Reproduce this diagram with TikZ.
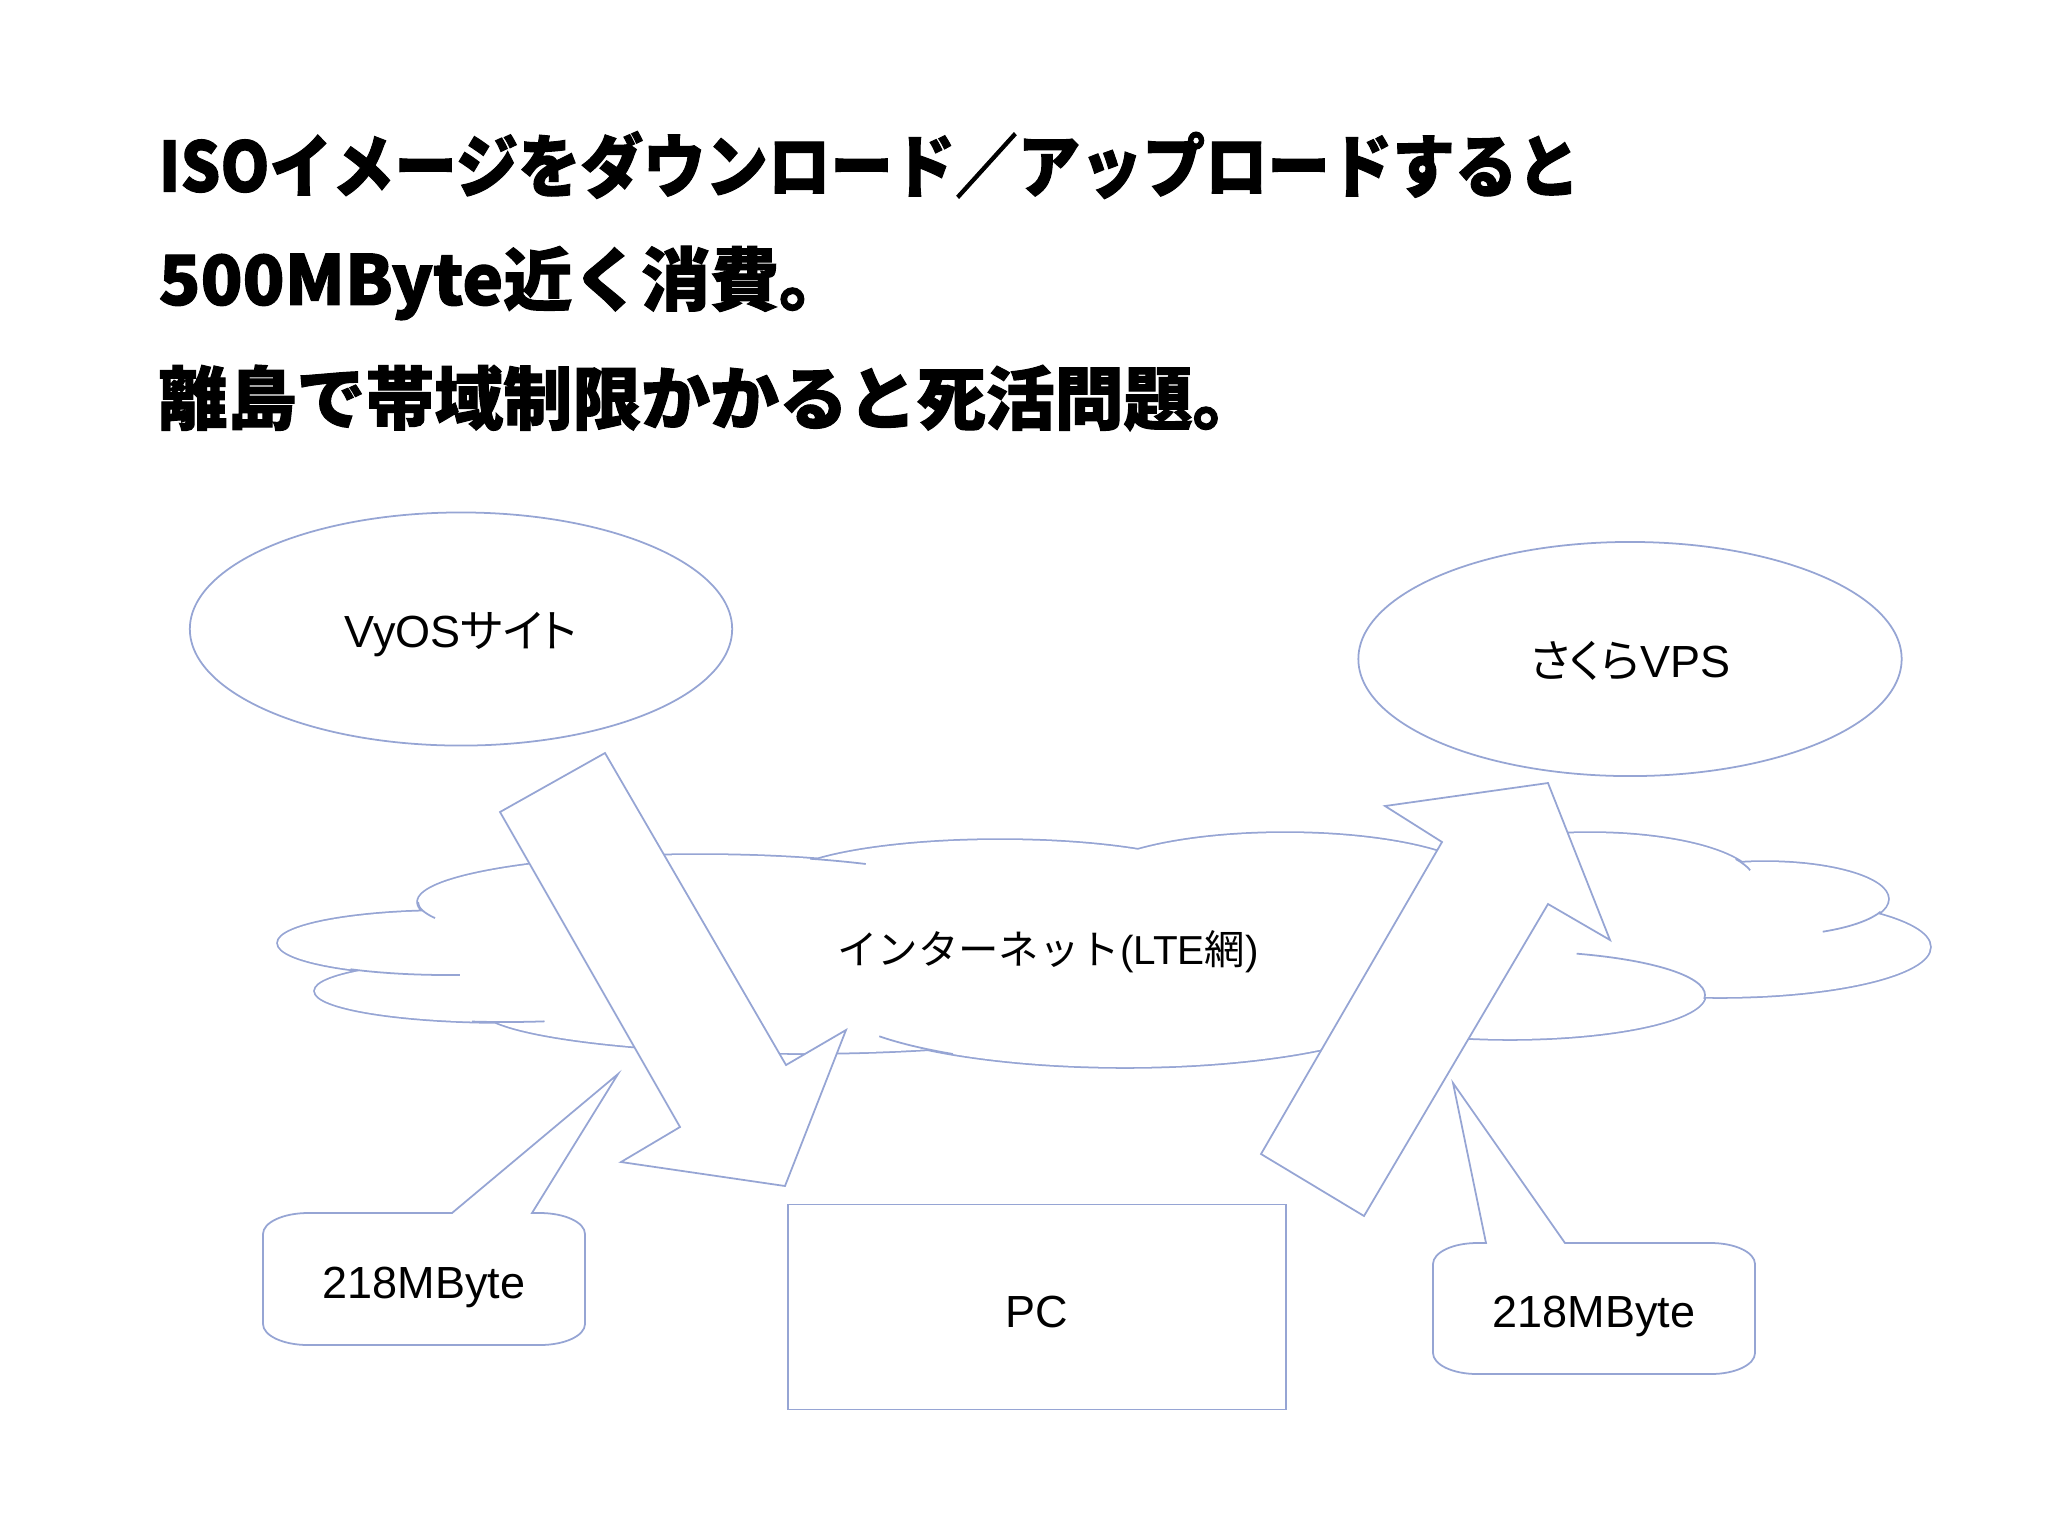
\documentclass[tikz,border=0pt]{standalone}
\usepackage{fontspec}
\usetikzlibrary{shapes.geometric}

\setmainfont{Liberation Sans}
\newfontfamily\jpfont{Noto Sans CJK JP}
\newfontfamily\jpnarrow{Noto Sans CJK JP}[RawFeature=+palt]
\newfontfamily\titlefont{Noto Sans CJK JP}[BoldFeatures={FakeBold=1.5}]
\definecolor{shapeline}{RGB}{150,165,212}

% lobes of the internet cloud
\newcommand\netlobes{(1100,950) ellipse [x radius=700, y radius=80]
  (448,943) ellipse [x radius=170, y radius=32]
  (505,991) ellipse [x radius=190, y radius=31]
  (800,1008) ellipse [x radius=320, y radius=45]
  (1125,995) ellipse [x radius=300, y radius=72]
  (1510,995) ellipse [x radius=195, y radius=44]
  (1720,947) ellipse [x radius=210, y radius=50]
  (1765,899) ellipse [x radius=123, y radius=37]
  (1590,882) ellipse [x radius=165, y radius=49]
  (1285,885) ellipse [x radius=200, y radius=52]
  (1000,885) ellipse [x radius=222, y radius=45]
  (700,902) ellipse [x radius=282, y radius=47]}

\begin{document}
\begin{tikzpicture}[x=0.01cm,y=-0.01cm,
    shapeedge/.style={draw=shapeline,line width=0.5pt,fill=white},
    boxtext/.style={font=\fontsize{12.8}{15}\selectfont},
    headline/.style={anchor=west,inner sep=0pt,font=\titlefont\bfseries\fontsize{19.6}{23}\selectfont}]

\useasboundingbox (0,0) rectangle (2048,1535);

% title
\node[headline] (line1) at (158,165) {\scalebox{0.906}[1]{ISOイメージをダウンロード／アップロードすると}};
\node[headline] (line2) at (158,283) {500MByte近く消費。};
\node[headline] (line3) at (158,398) {離島で帯域制限かかると死活問題。};

% sites
\node[shapeedge,ellipse,inner sep=0pt,minimum width=5.42cm,minimum height=2.33cm,
  text height=0.36cm,text depth=0pt,boxtext] (vyos) at (461,629) {VyOS{\jpnarrow サイト}};
\node[shapeedge,ellipse,inner sep=0pt,minimum width=5.43cm,minimum height=2.34cm,
  text height=0.36cm,text depth=0pt,boxtext] (vps) at (1630,659) {{\jpnarrow さくら}VPS};

% cloud
\draw[draw=shapeline,line width=1pt] \netlobes;
\fill[white] \netlobes;
\draw[shapeline,line width=0.5pt]
  (448,943) ++(125:170 and 32) arc[start angle=125,end angle=86,x radius=170,y radius=32]
  (505,991) ++(100:190 and 31) arc[start angle=100,end angle=78,x radius=190,y radius=31]
  (700,902) ++(180:282 and 47) arc[start angle=180,end angle=160,x radius=282,y radius=47]
  (700,902) ++(-67:282 and 47) arc[start angle=-67,end angle=-54,x radius=282,y radius=47]
  (1125,995) ++(145:300 and 72) arc[start angle=145,end angle=125,x radius=300,y radius=72]
  (1510,995) ++(-70:195 and 44) arc[start angle=-70,end angle=5,x radius=195,y radius=44]
  (1765,899) ++(20:123 and 37) arc[start angle=20,end angle=62,x radius=123,y radius=37]
  (1590,882) ++(-28:165 and 49) arc[start angle=-28,end angle=-14,x radius=165,y radius=49];
\node[font=\fontsize{11.5}{13}\selectfont] (net) at (1048,952) {{\jpfont インターネット}(LTE{\jpfont 網})};

% download / upload arrows
\draw[shapeedge] (500,812) -- (605,753) -- (786,1065) -- (846,1030) -- (785,1186)
  -- (621,1162) -- (680,1127) -- cycle;
\draw[shapeedge] (1261,1154) -- (1442,842) -- (1385,806) -- (1548,783) -- (1610,940)
  -- (1548,904) -- (1364,1216) -- cycle;

\node[shapeedge,rectangle,minimum width=4.97cm,minimum height=2.05cm,
  text height=0.40cm,text depth=0pt,boxtext] (pc) at (1037,1307) {PC};

% callouts
\draw[shapeedge] (452,1213) -- (618,1074) -- (532,1213) -- (540,1213)
  arc[start angle=-90,end angle=0,x radius=45,y radius=21] -- (585,1324)
  arc[start angle=0,end angle=90,x radius=45,y radius=21] -- (308,1345)
  arc[start angle=90,end angle=180,x radius=45,y radius=21] -- (263,1234)
  arc[start angle=180,end angle=270,x radius=45,y radius=21] -- cycle;
\node[boxtext,anchor=base] (down) at (424,1298) {218MByte};

\draw[shapeedge] (1486,1243) -- (1453,1083) -- (1565,1243) -- (1711,1243)
  arc[start angle=-90,end angle=0,x radius=44,y radius=21] -- (1755,1353)
  arc[start angle=0,end angle=90,x radius=44,y radius=21] -- (1477,1374)
  arc[start angle=90,end angle=180,x radius=44,y radius=21] -- (1433,1264)
  arc[start angle=180,end angle=270,x radius=44,y radius=21] -- cycle;
\node[boxtext,anchor=base] (up) at (1594,1327) {218MByte};

\end{tikzpicture}
\end{document}
